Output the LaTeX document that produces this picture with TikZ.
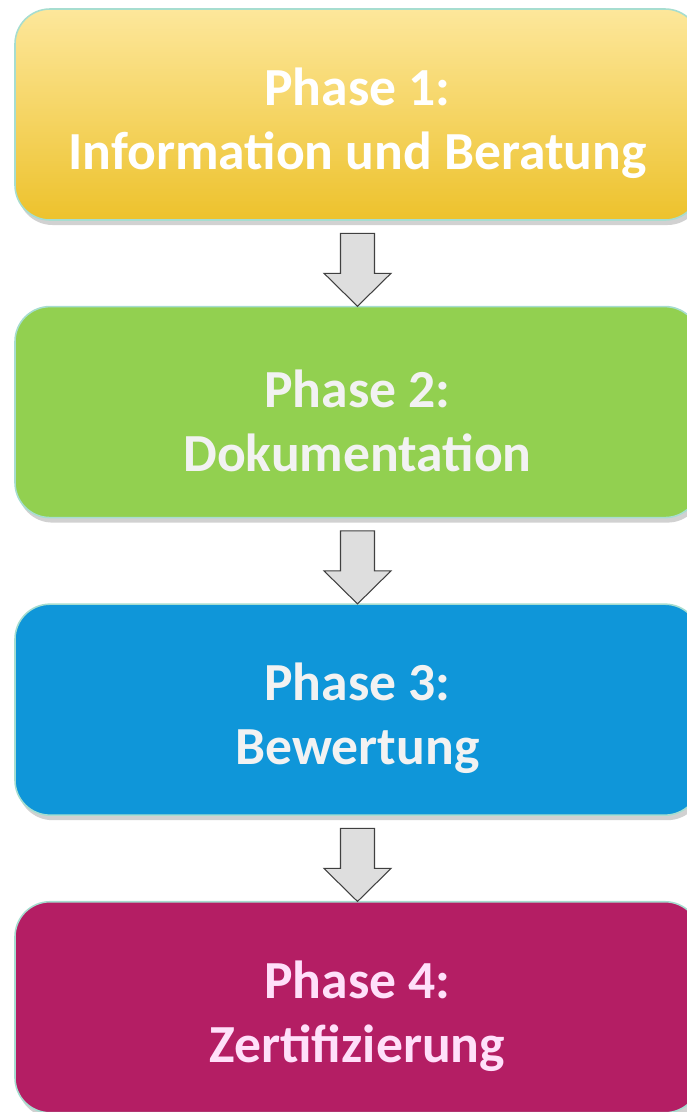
\documentclass[tikz,border=0pt]{standalone}
\usepackage{fontspec}
\setmainfont{Carlito}
\usetikzlibrary{positioning,shadows,calc}
\definecolor{edgeteal}{RGB}{166,221,208}
\definecolor{yellowtop}{RGB}{253,231,155}
\definecolor{yellowbot}{RGB}{237,194,44}
\definecolor{phasegreen}{RGB}{146,208,80}
\definecolor{phaseblue}{RGB}{15,150,217}
\definecolor{phasepurple}{RGB}{180,30,100}
\definecolor{textpink}{RGB}{255,224,250}
\newcommand{\phasetext}[2]{\rule{0pt}{1.1cm}#1\\#2}
\tikzset{
    phasebox/.style={draw=edgeteal, line width=0.9pt, rounded corners=0.7cm,
        minimum width=13.7cm, minimum height=4.22cm, align=center,
        font=\bfseries\fontsize{30.5}{36.5}\selectfont,
        drop shadow={shadow xshift=0.05cm, shadow yshift=-0.1cm, opacity=0.3, fill=black!60}},
    arrowbox/.style={draw=black!75, fill=black!13, line width=0.6pt, line join=miter},
    downarrow/.pic={
        \draw[arrowbox] (-0.34,0) -- (0.34,0) -- (0.34,-0.8) -- (0.67,-0.8)
            -- (0,-1.46) -- (-0.67,-0.8) -- (-0.34,-0.8) -- cycle;
    }
}

\begin{document}
\begin{tikzpicture}
    \clip (0,0) rectangle (13.74,-22.24);
    \node[phasebox, top color=yellowtop, bottom color=yellowbot, text=white] (p1) at (7.15,-2.29) {\phasetext{Phase 1:}{Information und Beratung}};
    \node[phasebox, fill=phasegreen, text=black!5, below=1.7cm of p1] (p2) {\phasetext{Phase 2:}{Dokumentation}};
    \node[phasebox, fill=phaseblue, text=black!5, below=1.7cm of p2] (p3) {\phasetext{Phase 3:}{Bewertung}};
    \node[phasebox, fill=phasepurple, text=textpink, below=1.7cm of p3] (p4) {\phasetext{Phase 4:}{Zertifizierung}};
    \pic at ($(p1.south)+(0,-0.25)$) {downarrow};
    \pic at ($(p2.south)+(0,-0.25)$) {downarrow};
    \pic at ($(p3.south)+(0,-0.25)$) {downarrow};
\end{tikzpicture}
\end{document}
